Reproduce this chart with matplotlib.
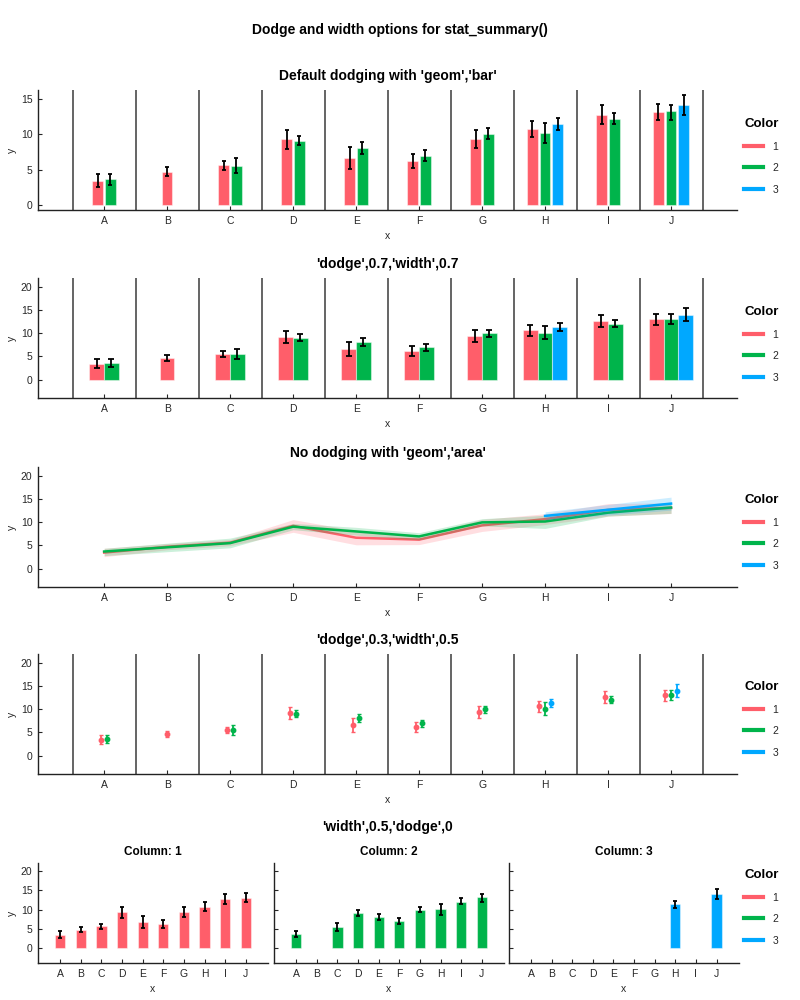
import numpy as np
import matplotlib
matplotlib.use('Agg')
import matplotlib.pyplot as plt
from matplotlib.lines import Line2D

plt.rcParams['font.family'] = ['Liberation Sans', 'DejaVu Sans']

# categories and color groups
cats = ['A', 'B', 'C', 'D', 'E', 'F', 'G', 'H', 'I', 'J']
groups = ['1', '2', '3']
colors = ['#FF5E6A', '#00B44B', '#00A8FF']

# means per group (nan = no data for that category)
mean1 = [3.46, 4.72, 5.61, 9.25, 6.68, 6.26, 9.35, 10.7, 12.71, 13.13]
mean2 = [3.69, np.nan, 5.51, 9.07, 8.04, 6.96, 10.0, 10.19, 12.1, 13.22]
mean3 = [np.nan, np.nan, np.nan, np.nan, np.nan, np.nan, np.nan, 11.4, np.nan, 14.07]

# confidence interval bounds
low1 = [2.57, 4.07, 4.95, 7.85, 5.14, 5.19, 8.04, 9.53, 11.36, 11.92]
high1 = [4.39, 5.42, 6.26, 10.6, 8.22, 7.24, 10.65, 11.87, 14.07, 14.25]
low2 = [2.8, np.nan, 4.49, 8.41, 7.24, 6.21, 9.25, 8.69, 11.36, 11.96]
high2 = [4.39, np.nan, 6.59, 9.77, 8.93, 7.76, 10.8, 11.54, 12.9, 14.16]
low3 = [np.nan, np.nan, np.nan, np.nan, np.nan, np.nan, np.nan, 10.51, np.nan, 12.66]
high3 = [np.nan, np.nan, np.nan, np.nan, np.nan, np.nan, np.nan, 12.29, np.nan, 15.47]

means = [np.array(mean1), np.array(mean2), np.array(mean3)]
lows = [np.array(low1), np.array(low2), np.array(low3)]
highs = [np.array(high1), np.array(high2), np.array(high3)]
xpos = np.arange(1, len(cats) + 1)

TXT = '#262626'


def style_axes(ax, yticks, ylim, xlim=(-0.05, 11.05), ylabels=True):
    for s in ['top', 'right']:
        ax.spines[s].set_visible(False)
    for s in ['left', 'bottom']:
        ax.spines[s].set_linewidth(1.0)
        ax.spines[s].set_color('#222222')
    ax.set_xlim(*xlim)
    ax.set_ylim(*ylim)
    ax.set_xticks(xpos)
    ax.set_xticklabels(cats)
    ax.set_yticks(yticks)
    if not ylabels:
        ax.set_yticklabels([])
    ax.tick_params(direction='in', length=3, width=0.8, labelsize=7.5,
                   colors=TXT, pad=4)
    ax.set_xlabel('x', fontsize=7.5, color=TXT, labelpad=4)


def add_vlines(ax):
    for b in np.arange(0.5, len(cats) + 1, 1.0):
        ax.axvline(b, color='#4a4a4a', lw=1.2, zorder=0)


def add_legend(ax, ytop):
    handles = [Line2D([], [], color=c, lw=3) for c in colors]
    leg = ax.legend(handles, groups, title='Color', loc='upper left',
                    bbox_to_anchor=(0.925, ytop), bbox_transform=ax.figure.transFigure,
                    frameon=False, fontsize=7.5, handlelength=1.8, handletextpad=0.9,
                    labelspacing=1.1, alignment='left', borderaxespad=0)
    leg.get_title().set_fontweight('bold')
    leg.get_title().set_fontsize(9.5)
    for t in leg.get_texts():
        t.set_color(TXT)


def offsets(n, step):
    return (np.arange(n) - (n - 1) / 2.0) * step


def dodged_positions(step):
    # per category dodge only among groups present
    pos = [np.full(len(cats), np.nan) for _ in groups]
    for i in range(len(cats)):
        present = [g for g in range(len(groups)) if not np.isnan(means[g][i])]
        offs = offsets(len(present), step)
        for k, g in enumerate(present):
            pos[g][i] = xpos[i] + offs[k]
    return pos


def bar_panel(ax, step, width, capsize):
    pos = dodged_positions(step)
    for g in range(len(groups)):
        m = ~np.isnan(means[g])
        ax.bar(pos[g][m], means[g][m], width=width, color=colors[g],
               edgecolor=(1, 1, 1, 0.45), lw=0.8, zorder=2)
        ax.errorbar(pos[g][m], means[g][m],
                    yerr=[means[g][m] - lows[g][m], highs[g][m] - means[g][m]],
                    fmt='none', ecolor='black', elinewidth=1.3, capsize=capsize,
                    capthick=1.3, zorder=3)


fig = plt.figure(figsize=(8, 10), dpi=100)
fig.text(0.5, 0.970, 'Dodge and width options for stat_summary()', ha='center',
         va='center', fontsize=10, fontweight='bold')

L, W = 0.0475, 0.874

# Panel 1: default dodging with bars
ax1 = fig.add_axes([L, 0.79, W, 0.12])
add_vlines(ax1)
bar_panel(ax1, 0.2, 0.17, 1.5)
style_axes(ax1, [0, 5, 10, 15], (-0.66, 16.2))
ax1.set_ylabel('y', fontsize=7.5, color=TXT, labelpad=3)
ax1.set_title("Default dodging with 'geom','bar'", fontsize=10, fontweight='bold', pad=7)
add_legend(ax1, 0.886)

# Panel 2: dodge 0.7 width 0.7
ax2 = fig.add_axes([L, 0.602, W, 0.12])
add_vlines(ax2)
bar_panel(ax2, 0.7 / 3, 0.7 / 3, 2.5)
style_axes(ax2, [0, 5, 10, 15, 20], (-4, 22))
ax2.set_ylabel('y', fontsize=7.5, color=TXT, labelpad=3)
ax2.set_title("'dodge',0.7,'width',0.7", fontsize=10, fontweight='bold', pad=7)
add_legend(ax2, 0.698)

# Panel 3: areas without dodging
ax3 = fig.add_axes([L, 0.413, W, 0.12])
for g in range(len(groups)):
    m = ~np.isnan(means[g])
    ax3.fill_between(xpos[m], lows[g][m], highs[g][m], color=colors[g],
                     alpha=0.2, lw=0, zorder=1 + g)
    ax3.plot(xpos[m], means[g][m], color=colors[g], lw=1.8, zorder=1 + g)
style_axes(ax3, [0, 5, 10, 15, 20], (-4, 22))
ax3.set_ylabel('y', fontsize=7.5, color=TXT, labelpad=3)
ax3.set_title("No dodging with 'geom','area'", fontsize=10, fontweight='bold', pad=7)
add_legend(ax3, 0.510)

# Panel 4: points with dodge 0.3
ax4 = fig.add_axes([L, 0.226, W, 0.12])
add_vlines(ax4)
pos4 = dodged_positions(0.1)
for g in range(len(groups)):
    m = ~np.isnan(means[g])
    ax4.errorbar(pos4[g][m], means[g][m],
                 yerr=[means[g][m] - lows[g][m], highs[g][m] - means[g][m]],
                 fmt='o', color=colors[g], ms=3.2, elinewidth=1.3, capsize=1.2,
                 capthick=1.0, zorder=3)
style_axes(ax4, [0, 5, 10, 15, 20], (-4, 22))
ax4.set_ylabel('y', fontsize=7.5, color=TXT, labelpad=3)
ax4.set_title("'dodge',0.3,'width',0.5", fontsize=10, fontweight='bold', pad=7)
add_legend(ax4, 0.323)

# Panel 5: facets by color, width 0.5, no dodge
fig.text(0.4844, 0.173, "'width',0.5,'dodge',0", ha='center', va='center',
         fontsize=10, fontweight='bold')
facet_lefts = [0.0475, 0.3425, 0.636]
for g in range(len(groups)):
    ax = fig.add_axes([facet_lefts[g], 0.037, 0.2875, 0.10])
    m = ~np.isnan(means[g])
    ax.bar(xpos[m], means[g][m], width=0.5, color=colors[g],
           edgecolor=(1, 1, 1, 0.45), lw=0.8, zorder=2)
    ax.errorbar(xpos[m], means[g][m],
                yerr=[means[g][m] - lows[g][m], highs[g][m] - means[g][m]],
                fmt='none', ecolor='black', elinewidth=1.3, capsize=1.5,
                capthick=1.3, zorder=3)
    style_axes(ax, [0, 5, 10, 15, 20], (-4, 22.2), xlim=(-0.08, 11.08),
               ylabels=(g == 0))
    if g == 0:
        ax.set_ylabel('y', fontsize=7.5, color=TXT, labelpad=3)
    ax.set_title('Column: ' + groups[g], fontsize=8.5, fontweight='bold', pad=6)
    if g == 2:
        add_legend(ax, 0.135)

fig.savefig('out.png', dpi=100)
